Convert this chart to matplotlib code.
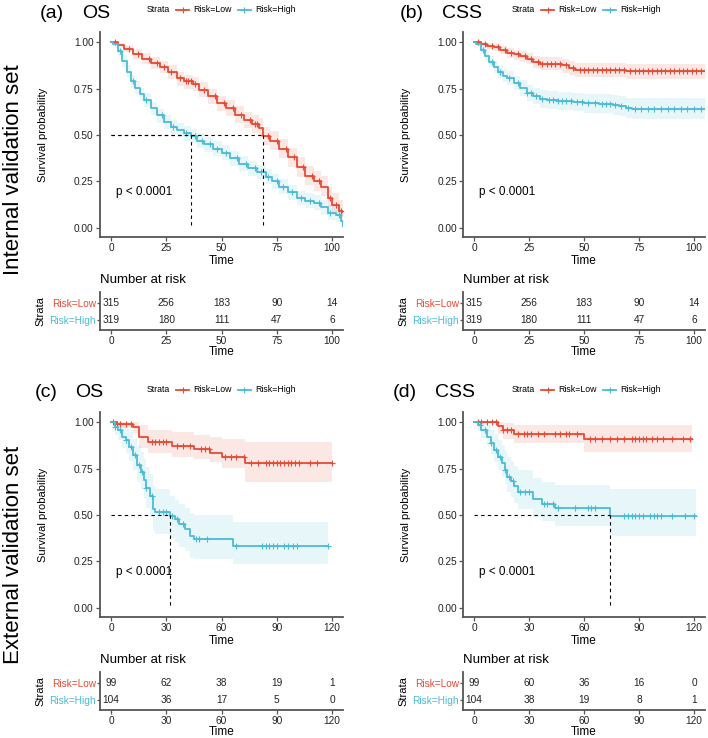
import numpy as np
import matplotlib.pyplot as plt
from matplotlib.lines import Line2D

plt.rcParams['font.family'] = ['Liberation Sans', 'DejaVu Sans']

RED = '#E64B35'
BLUE = '#4DBBD5'
W, H = 708, 738

# ---- (a) internal OS ----
a_low_t = [0, 3, 6, 10, 14, 18, 22, 26, 30, 33, 37, 40, 44, 48, 52, 56, 60, 64, 67, 69, 72, 76, 80, 84, 88, 92, 95, 98, 100, 103, 105]
a_low_s = [1.0, 0.985, 0.965, 0.937, 0.91, 0.89, 0.868, 0.84, 0.805, 0.79, 0.776, 0.745, 0.71, 0.67, 0.645, 0.61, 0.58, 0.558, 0.54, 0.495, 0.47, 0.425, 0.38, 0.325, 0.28, 0.25, 0.22, 0.16, 0.125, 0.09, 0.085]
a_low_hi = [1.0, 0.997, 0.985, 0.962, 0.94, 0.92, 0.9, 0.875, 0.84, 0.825, 0.812, 0.785, 0.75, 0.71, 0.69, 0.655, 0.625, 0.605, 0.59, 0.545, 0.52, 0.478, 0.43, 0.38, 0.335, 0.305, 0.28, 0.22, 0.185, 0.15, 0.145]
a_low_lo = [1.0, 0.972, 0.945, 0.91, 0.88, 0.857, 0.833, 0.803, 0.765, 0.75, 0.735, 0.703, 0.665, 0.628, 0.6, 0.565, 0.535, 0.51, 0.49, 0.445, 0.42, 0.375, 0.33, 0.275, 0.23, 0.2, 0.17, 0.11, 0.08, 0.05, 0.045]
a_low_cens = [2, 8, 12, 17, 21, 24, 27, 31, 34, 35, 36, 38, 42, 47, 51, 55, 59, 63, 65, 66, 71, 75, 79, 83, 87, 91, 94, 99, 102, 104]

a_high_t = [0, 1, 3, 5, 7, 9, 11, 13, 15, 18, 21, 24, 27, 30, 33, 36, 39, 42, 46, 50, 54, 58, 62, 66, 70, 73, 76, 80, 84, 88, 92, 95, 98, 102, 104, 105]
a_high_s = [1.0, 0.99, 0.95, 0.9, 0.84, 0.79, 0.755, 0.72, 0.69, 0.645, 0.605, 0.57, 0.545, 0.525, 0.51, 0.495, 0.47, 0.45, 0.425, 0.405, 0.375, 0.345, 0.32, 0.3, 0.275, 0.25, 0.22, 0.19, 0.16, 0.145, 0.135, 0.11, 0.08, 0.07, 0.035, 0.01]
a_high_hi = [1.0, 1.0, 0.975, 0.93, 0.875, 0.825, 0.79, 0.755, 0.725, 0.68, 0.642, 0.607, 0.583, 0.563, 0.548, 0.533, 0.508, 0.49, 0.465, 0.445, 0.415, 0.385, 0.36, 0.34, 0.315, 0.29, 0.26, 0.23, 0.2, 0.185, 0.175, 0.15, 0.12, 0.11, 0.075, 0.05]
a_high_lo = [1.0, 0.98, 0.925, 0.867, 0.805, 0.755, 0.72, 0.685, 0.653, 0.607, 0.567, 0.532, 0.507, 0.487, 0.47, 0.455, 0.43, 0.41, 0.385, 0.365, 0.335, 0.305, 0.28, 0.26, 0.235, 0.21, 0.18, 0.15, 0.12, 0.105, 0.095, 0.07, 0.04, 0.03, 0.0, 0.0]
a_high_cens = [4, 10, 16, 23, 28, 34, 38, 41, 45, 48, 52, 57, 61, 65, 68, 71, 75, 78, 82, 86, 90, 94, 99, 103]

# ---- (b) internal CSS ----
b_low_t = [0, 3, 6, 9, 12, 15, 18, 21, 24, 27, 30, 36, 40, 43, 46, 69, 105]
b_low_s = [1.0, 0.99, 0.982, 0.972, 0.958, 0.942, 0.934, 0.925, 0.912, 0.895, 0.885, 0.885, 0.875, 0.862, 0.852, 0.845, 0.845]
b_low_hi = [1.0, 1.0, 0.996, 0.99, 0.98, 0.967, 0.96, 0.953, 0.942, 0.928, 0.92, 0.92, 0.911, 0.9, 0.89, 0.885, 0.885]
b_low_lo = [1.0, 0.978, 0.965, 0.952, 0.935, 0.916, 0.906, 0.895, 0.88, 0.86, 0.848, 0.848, 0.836, 0.821, 0.81, 0.803, 0.803]
b_low_cens = [2, 5, 8, 11, 14, 17, 20, 23, 26, 29, 31, 33, 35, 37, 39, 42, 45, 48, 50, 52, 54, 56, 58, 60, 62, 64, 66, 68,
              71, 73, 75, 77, 79, 81, 83, 85, 87, 89, 91, 93, 95, 97, 99, 101, 103]

b_high_t = [0, 1, 3, 5, 7, 9, 11, 13, 15, 18, 21, 24, 27, 30, 33, 38, 45, 50, 57, 63, 66, 69, 72, 105]
b_high_s = [1.0, 0.99, 0.96, 0.925, 0.895, 0.865, 0.84, 0.82, 0.805, 0.78, 0.752, 0.728, 0.71, 0.695, 0.688, 0.682, 0.678, 0.672, 0.668, 0.662, 0.655, 0.645, 0.642, 0.642]
b_high_hi = [1.0, 1.0, 0.98, 0.952, 0.926, 0.898, 0.875, 0.857, 0.843, 0.82, 0.794, 0.772, 0.755, 0.742, 0.736, 0.731, 0.728, 0.723, 0.72, 0.715, 0.709, 0.7, 0.697, 0.697]
b_high_lo = [1.0, 0.98, 0.94, 0.898, 0.864, 0.832, 0.805, 0.783, 0.767, 0.74, 0.71, 0.684, 0.665, 0.648, 0.64, 0.633, 0.628, 0.621, 0.616, 0.609, 0.601, 0.59, 0.587, 0.587]
b_high_cens = [4, 8, 12, 16, 20, 24, 26, 28, 31, 34, 36, 38, 40, 42, 44, 47, 49, 52, 55, 58, 60, 62, 64, 67, 70,
               73, 76, 79, 82, 85, 88, 91, 94, 97, 100, 103]

# ---- (c) external OS ----
c_low_t = [0, 3, 12, 15, 20, 33, 45, 54, 60, 73, 120]
c_low_s = [1.0, 0.99, 0.975, 0.921, 0.891, 0.873, 0.853, 0.832, 0.811, 0.782, 0.782]
c_low_hi = [1.0, 1.0, 1.0, 0.985, 0.96, 0.948, 0.93, 0.921, 0.912, 0.891, 0.891]
c_low_lo = [1.0, 0.97, 0.94, 0.859, 0.835, 0.815, 0.8, 0.785, 0.752, 0.676, 0.676]
c_low_cens = [1, 3, 5, 8, 11, 22, 24, 26, 28, 30, 36, 39, 43, 49, 51, 53, 62, 65, 68, 72, 76, 80, 84, 86, 88, 90, 92,
              94, 96, 98, 100, 102, 108, 112, 120]

c_high_t = [0, 2, 4, 6, 8, 10, 12, 14, 16, 18, 19, 21, 23, 24, 32, 35, 37, 40, 43, 45, 66, 118]
c_high_s = [1.0, 0.975, 0.96, 0.921, 0.903, 0.868, 0.823, 0.77, 0.734, 0.69, 0.645, 0.601, 0.53, 0.518, 0.494, 0.476, 0.449, 0.423, 0.385, 0.372, 0.333, 0.333]
c_high_hi = [1.0, 1.0, 1.0, 0.985, 0.97, 0.945, 0.91, 0.87, 0.84, 0.8, 0.76, 0.72, 0.655, 0.64, 0.6, 0.58, 0.56, 0.54, 0.51, 0.5, 0.464, 0.464]
c_high_lo = [1.0, 0.93, 0.905, 0.86, 0.835, 0.79, 0.74, 0.68, 0.64, 0.59, 0.54, 0.49, 0.415, 0.4, 0.375, 0.355, 0.33, 0.305, 0.27, 0.265, 0.233, 0.233]
c_high_cens = [2, 5, 8, 11, 13, 15, 17, 19, 22, 26, 28, 30, 33, 36, 39, 46, 48, 52, 68, 82, 84, 86, 88, 90, 94, 96,
               99, 101, 118]

# ---- (d) external CSS ----
d_low_t = [0, 13, 16, 22, 60, 119]
d_low_s = [1.0, 0.978, 0.957, 0.939, 0.912, 0.912]
d_low_hi = [1.0, 1.0, 0.995, 0.985, 0.984, 0.984]
d_low_lo = [1.0, 0.935, 0.912, 0.886, 0.841, 0.841]
d_low_cens = [2, 4, 7, 10, 12, 16, 18, 20, 24, 27, 29, 31, 35, 38, 44, 47, 50, 52, 56, 63, 66, 70, 74, 78, 82, 86,
              88, 90, 92, 94, 97, 100, 103, 108, 114, 118]

d_high_t = [0, 2, 4, 7, 9, 11, 13, 15, 17, 18, 20, 22, 24, 32, 37, 44, 74, 121]
d_high_s = [1.0, 0.984, 0.957, 0.921, 0.886, 0.85, 0.814, 0.779, 0.743, 0.707, 0.681, 0.654, 0.624, 0.586, 0.561, 0.538, 0.497, 0.497]
d_high_hi = [1.0, 1.0, 1.0, 0.985, 0.96, 0.935, 0.905, 0.875, 0.845, 0.815, 0.79, 0.765, 0.74, 0.7, 0.68, 0.663, 0.64, 0.64]
d_high_lo = [1.0, 0.95, 0.915, 0.87, 0.83, 0.785, 0.745, 0.705, 0.665, 0.625, 0.595, 0.565, 0.53, 0.49, 0.465, 0.44, 0.386, 0.386]
d_high_cens = [3, 6, 9, 12, 14, 17, 19, 21, 25, 28, 30, 38, 40, 43, 46, 55, 62, 64, 66, 82, 84, 86, 88, 90, 92, 96,
               98, 100, 102, 108, 115, 120]

# medians (time where survival reaches 0.5)
a_medians = [69, 36]
b_medians = []
c_medians = [32]
d_medians = [74]

# number at risk tables
ticks_int = [0, 25, 50, 75, 100]
ticks_ext = [0, 30, 60, 90, 120]
a_risk_low = [315, 256, 183, 90, 14]
a_risk_high = [319, 180, 111, 47, 6]
b_risk_low = [315, 256, 183, 90, 14]
b_risk_high = [319, 180, 111, 47, 6]
c_risk_low = [99, 62, 38, 19, 1]
c_risk_high = [104, 36, 17, 5, 0]
d_risk_low = [99, 60, 36, 16, 0]
d_risk_high = [104, 38, 19, 8, 1]

fig = plt.figure(figsize=(W / 100, H / 100), dpi=100)


def px_axes(left, top, right, bottom):
    return fig.add_axes([left / W, 1 - bottom / H, (right - left) / W, (bottom - top) / H])


def style(ax):
    for s in ['top', 'right']:
        ax.spines[s].set_visible(False)
    for s in ['left', 'bottom']:
        ax.spines[s].set_linewidth(1.3)
        ax.spines[s].set_color('#555555')
    ax.tick_params(labelsize=7.3, length=3, width=0.9, pad=1.5, color='#555555', labelcolor='#222222')


def km(ax, t, s, lo, hi, cens, color):
    t = np.asarray(t, float)
    s = np.asarray(s, float)
    ax.fill_between(t, lo, hi, step='post', color=color, alpha=0.13, lw=0)
    ax.step(t, s, where='post', color=color, lw=1.3)
    idx = np.searchsorted(t, cens, side='right') - 1
    ax.plot(cens, s[idx], ls='none', marker='+', ms=4, mew=0.8, color=color)


panels = [
    dict(tag='(a)', name='OS', left=100, right=343, top=32, xlim=(-5, 105), ticks=ticks_int,
         low=(a_low_t, a_low_s, a_low_lo, a_low_hi, a_low_cens),
         high=(a_high_t, a_high_s, a_high_lo, a_high_hi, a_high_cens),
         med=a_medians, risk=(a_risk_low, a_risk_high), tagx=40, namex=82, strx=147),
    dict(tag='(b)', name='CSS', left=463, right=705, top=32, xlim=(-5, 105), ticks=ticks_int,
         low=(b_low_t, b_low_s, b_low_lo, b_low_hi, b_low_cens),
         high=(b_high_t, b_high_s, b_high_lo, b_high_hi, b_high_cens),
         med=b_medians, risk=(b_risk_low, b_risk_high), tagx=400, namex=442, strx=512),
    dict(tag='(c)', name='OS', left=100, right=343, top=412, xlim=(-6, 126), ticks=ticks_ext,
         low=(c_low_t, c_low_s, c_low_lo, c_low_hi, c_low_cens),
         high=(c_high_t, c_high_s, c_high_lo, c_high_hi, c_high_cens),
         med=c_medians, risk=(c_risk_low, c_risk_high), tagx=35, namex=75, strx=147),
    dict(tag='(d)', name='CSS', left=463, right=705, top=412, xlim=(-6, 126), ticks=ticks_ext,
         low=(d_low_t, d_low_s, d_low_lo, d_low_hi, d_low_cens),
         high=(d_high_t, d_high_s, d_high_lo, d_high_hi, d_high_cens),
         med=d_medians, risk=(d_risk_low, d_risk_high), tagx=393, namex=435, strx=512),
]

for p in panels:
    top = p['top']
    off = top - 32
    ax = px_axes(p['left'], top, p['right'], top + 205)
    style(ax)
    t, s, lo, hi, c = p['low']
    km(ax, t, s, lo, hi, c, RED)
    t, s, lo, hi, c = p['high']
    km(ax, t, s, lo, hi, c, BLUE)
    for m in p['med']:
        ax.plot([0, m], [0.5, 0.5], color='black', lw=0.8, ls=(0, (3, 3)))
        ax.plot([m, m], [0.5, 0], color='black', lw=0.8, ls=(0, (3, 3)))
    ax.set_xlim(p['xlim'])
    ax.set_ylim(-0.05, 1.055)
    ax.set_xticks(p['ticks'])
    ax.set_yticks([0, 0.25, 0.5, 0.75, 1.0])
    ax.set_yticklabels(['0.00', '0.25', '0.50', '0.75', '1.00'])
    ax.set_xlabel('Time', fontsize=8.5, labelpad=1)
    ax.set_ylabel('Survival probability', fontsize=8)
    ax.yaxis.set_label_coords(-0.215, 0.5)
    ax.text(p['ticks'][-1] * 0.024, 0.19, 'p < 0.0001', fontsize=8.5, va='center', ha='left')

    # title and legend
    fig.text(p['tagx'] / W, 1 - (off + 13) / H, p['tag'], fontsize=14, va='center')
    fig.text(p['namex'] / W, 1 - (off + 13) / H, p['name'], fontsize=14, va='center')
    ly = 1 - (off + 10) / H
    sx = p['strx']
    fig.text(sx / W, ly, 'Strata', fontsize=6.3, va='center')
    for dx, col, lab in [(29, RED, 'Risk=Low'), (91, BLUE, 'Risk=High')]:
        x0, x1 = (sx + dx) / W, (sx + dx + 13) / W
        fig.add_artist(Line2D([x0, x1], [ly, ly], color=col, lw=1.3, transform=fig.transFigure))
        fig.add_artist(Line2D([(x0 + x1) / 2], [ly], color=col, marker='+', ms=4, mew=0.8,
                              transform=fig.transFigure))
        fig.text((sx + dx + 17) / W, ly, lab, fontsize=6.3, va='center')

    # number at risk table
    tax = px_axes(p['left'], off + 292, p['right'], off + 330)
    style(tax)
    tax.set_xlim(p['xlim'])
    tax.set_ylim(0.41, 2.65)
    tax.set_xticks(p['ticks'])
    tax.set_yticks([2, 1])
    tax.set_yticklabels(['Risk=Low', 'Risk=High'], fontsize=7.3)
    tax.tick_params(axis='y', length=2, pad=1)
    for lbl, col in zip(tax.get_yticklabels(), [RED, BLUE]):
        lbl.set_color(col)
    for row, vals in [(2, p['risk'][0]), (1, p['risk'][1])]:
        for x, n in zip(p['ticks'], vals):
            tax.text(x, row, str(n), ha='center', va='center', fontsize=7.3, color='#222222')
    tax.set_xlabel('Time', fontsize=8.5, labelpad=0)
    tax.set_ylabel('Strata', fontsize=8)
    tax.yaxis.set_label_coords(-0.225, 0.5)
    fig.text(p['left'] / W, 1 - (off + 280) / H, 'Number at risk', fontsize=9.5, va='center')

fig.text(14 / W, 1 - 170 / H, 'Internal validation set', rotation=90, fontsize=16, ha='center', va='center')
fig.text(14 / W, 1 - 555 / H, 'External validation set', rotation=90, fontsize=16, ha='center', va='center')

fig.savefig('out.png', dpi=100)
